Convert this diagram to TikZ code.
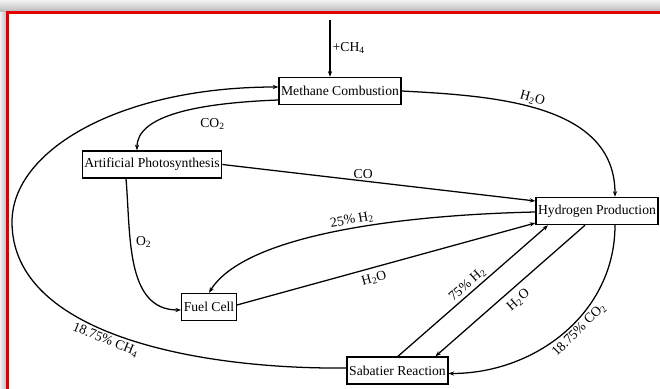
\documentclass[tikz,border=0pt]{standalone}
\usepackage{fontspec}
\setmainfont{Liberation Serif}
\usetikzlibrary{arrows.meta,calc}
\tikzset{
  process/.style={draw, line width=0.9pt, fill=white, inner sep=1.5pt,
    minimum height=0.68cm, font=\fontsize{9.7}{11}\selectfont},
  flow/.style={line width=0.9pt, -{Stealth[length=4pt,width=3pt]}},
  flowlabel/.style={font=\fontsize{9.7}{11}\selectfont, inner sep=1.5pt}
}
\begin{document}
\begin{tikzpicture}[x=0.025cm,y=0.025cm]
\useasboundingbox (0,0) rectangle (660,-389);

% shadow and frame
\shade[top color=gray!10, bottom color=gray!55] (0,0) rectangle (660,-12);
\shade[left color=gray!10, right color=gray!55] (0,-12) rectangle (7,-389);
\draw[red!90!black, line width=1.5pt] (7.5,-389) -- (7.5,-12.5) -- (660,-12.5);

% processes
\node[process] (meth) at (340,-91) {Methane Combustion};
\node[process] (photo) at (152,-164.5) {Artificial Photosynthesis};
\node[process] (hydro) at (597,-211) {Hydrogen Production};
\node[process] (fuel) at (209,-307) {Fuel Cell};
\node[process] (sabat) at (397.5,-370.5) {Sabatier Reaction};

\coordinate (ch4in) at (330,-20);
\coordinate (loopleft) at (12,-222);

% feed
\draw[flow] (ch4in) -- (ch4in |- meth.north)
  node[flowlabel, midway, right] {+CH\textsubscript{4}};

% combustion products
\draw[flow] (meth.east) to[out=-3, in=90]
  node[flowlabel, pos=0.45, sloped, above] {H\textsubscript{2}O} ($(hydro.north)+(18,0)$);
\draw[flow] ($(meth.west)+(0,-9)$) .. controls +(-80,-3) and +(0,35) ..
  node[flowlabel, pos=0.3, below=7pt] {CO\textsubscript{2}} ($(photo.north)+(-15,0)$);

% photosynthesis products
\draw[flow] (photo.east) --
  node[flowlabel, pos=0.45, above] {CO} ($(hydro.west)+(0,10)$);
\draw[flow] ($(photo.south)+(-26,0)$) to[out=-85, in=180]
  node[flowlabel, pos=0.36, right=2pt] {O\textsubscript{2}} ($(fuel.west)+(0,-3)$);

% hydrogen and fuel cell
\draw[flow] ($(hydro.west)+(0,-1)$) .. controls +(-135,-3) and +(36,58) ..
  node[flowlabel, pos=0.45, sloped, above] {25\% H\textsubscript{2}} (fuel.north);
\draw[flow] ($(fuel.east)+(0,2)$) --
  node[flowlabel, pos=0.45, sloped, below=2pt] {H\textsubscript{2}O} ($(hydro.west)+(0,-12)$);

% sabatier loop
\draw[flow] ($(sabat.north)+(0.5,0)$) --
  node[flowlabel, pos=0.5, sloped, above] {75\% H\textsubscript{2}} ($(hydro.south)+(-49,0)$);
\draw[flow] ($(hydro.south)+(-12,0)$) --
  node[flowlabel, pos=0.5, sloped, below=3pt] {H\textsubscript{2}O} ($(sabat.north)+(38,0)$);
\draw[flow] ($(hydro.south)+(18,0)$) to[out=-90, in=0]
  node[flowlabel, pos=0.45, sloped, below] {18.75\% CO\textsubscript{2}} ($(sabat.east)+(0,-3)$);
\draw[flow] ($(sabat.west)+(0,2.5)$) .. controls +(-147,-1.5) and +(0,-113) ..
  node[flowlabel, pos=0.54, sloped, below] {18.75\% CH\textsubscript{4}} (loopleft)
  .. controls +(0,72) and +(-158,0) .. ($(meth.west)+(0,4)$);
\end{tikzpicture}
\end{document}
